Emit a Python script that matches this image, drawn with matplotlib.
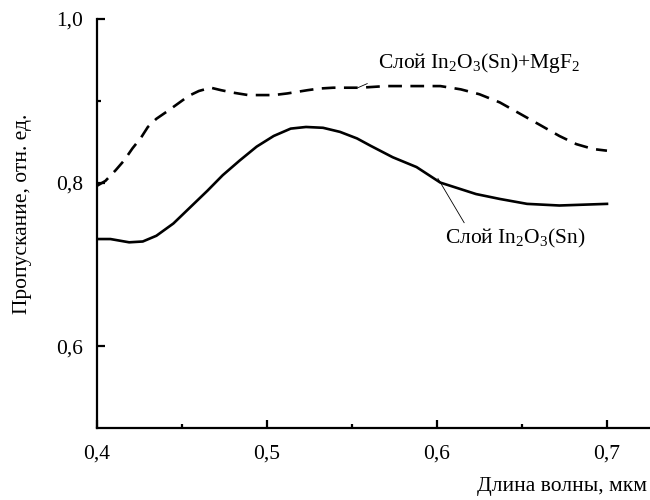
"""Transmission spectra of In2O3(Sn) layer with and without MgF2 coating."""

import matplotlib
matplotlib.use('Agg')
import matplotlib.pyplot as plt
from matplotlib.ticker import FixedLocator, FixedFormatter


plt.rcParams['font.family'] = ['Liberation Serif', 'DejaVu Serif']
plt.rcParams['mathtext.fontset'] = 'custom'
plt.rcParams['mathtext.rm'] = 'Liberation Serif'

# In2O3(Sn) layer (solid)
wl_ito = [0.400, 0.408, 0.419, 0.427, 0.435, 0.445, 0.455, 0.465, 0.474,
          0.484, 0.494, 0.504, 0.514, 0.523, 0.533, 0.543, 0.553, 0.561,
          0.574, 0.588, 0.602, 0.614, 0.623, 0.637, 0.653, 0.672, 0.700]
tr_ito = [0.731, 0.731, 0.727, 0.728, 0.735, 0.750, 0.770, 0.790, 0.809,
          0.827, 0.844, 0.857, 0.866, 0.868, 0.867, 0.862, 0.854, 0.845,
          0.831, 0.819, 0.800, 0.792, 0.786, 0.780, 0.774, 0.772, 0.774]

# In2O3(Sn) + MgF2 (dashed)
wl_mgf = [0.400, 0.405, 0.411, 0.416, 0.421, 0.426, 0.430, 0.435, 0.442,
          0.448, 0.454, 0.460, 0.467, 0.473, 0.480, 0.489, 0.497, 0.504,
          0.512, 0.518, 0.524, 0.531, 0.539, 0.547, 0.555, 0.570, 0.586,
          0.602, 0.614, 0.625, 0.637, 0.649, 0.661, 0.672, 0.682, 0.692,
          0.700]
tr_mgf = [0.796, 0.802, 0.815, 0.827, 0.842, 0.855, 0.868, 0.878, 0.888,
          0.897, 0.906, 0.912, 0.916, 0.913, 0.910, 0.907, 0.907, 0.907,
          0.909, 0.911, 0.913, 0.915, 0.916, 0.916, 0.916, 0.918, 0.918,
          0.918, 0.914, 0.908, 0.898, 0.884, 0.870, 0.857, 0.847, 0.841,
          0.839]

xticks = [0.4, 0.5, 0.6, 0.7]
xtick_labels = ['0,4', '0,5', '0,6', '0,7']
yticks = [0.6, 0.8, 1.0]
ytick_labels = ['0,6', '0,8', '1,0']

label_ito = r'Слой In$\mathregular{_2}$O$\mathregular{_3}$(Sn)'
label_mgf = r'Слой In$\mathregular{_2}$O$\mathregular{_3}$(Sn)+MgF$\mathregular{_2}$'

fs = 15.5

fig = plt.figure(figsize=(6.5, 5), dpi=100)
ax = fig.add_axes([0.149, 0.144, 0.851, 0.818])

ax.plot(wl_ito, tr_ito, color='black', lw=1.9, solid_joinstyle='round')
ax.plot(wl_mgf, tr_mgf, color='black', lw=1.9, ls=(0, (5.2, 3.2)))

ax.set_xlim(0.4, 0.7253)
ax.set_ylim(0.5, 1.0)

ax.spines['top'].set_visible(False)
ax.spines['right'].set_visible(False)
for s in ('left', 'bottom'):
    ax.spines[s].set_linewidth(1.6)

ax.xaxis.set_major_locator(FixedLocator(xticks))
ax.xaxis.set_major_formatter(FixedFormatter(xtick_labels))
ax.xaxis.set_minor_locator(FixedLocator([0.45, 0.55, 0.65]))
ax.yaxis.set_major_locator(FixedLocator(yticks))
ax.yaxis.set_major_formatter(FixedFormatter(ytick_labels))
ax.yaxis.set_minor_locator(FixedLocator([0.9]))

ax.tick_params(which='major', direction='in', length=6, width=1.6,
               labelsize=fs)
ax.tick_params(which='minor', direction='in', length=3, width=1.6)
ax.tick_params(axis='x', pad=12)
ax.tick_params(axis='y', pad=10)

# curve labels with leader lines
ax.plot([0.6006, 0.616], [0.805, 0.751], color='black', lw=0.6)
ax.text(0.6047, 0.732, label_ito, fontsize=fs, va='center', ha='left')
ax.plot([0.5535, 0.559], [0.916, 0.921], color='black', lw=0.6)
ax.text(0.5653, 0.946, label_mgf, fontsize=fs, va='center', ha='left')

fig.text(0.995, 0.026, 'Длина волны, мкм', fontsize=fs, ha='right',
         va='center')
fig.text(0.035, 0.572, 'Пропускание, отн. ед.', fontsize=fs, rotation=90,
         ha='center', va='center')

fig.savefig('out.png', dpi=100)
